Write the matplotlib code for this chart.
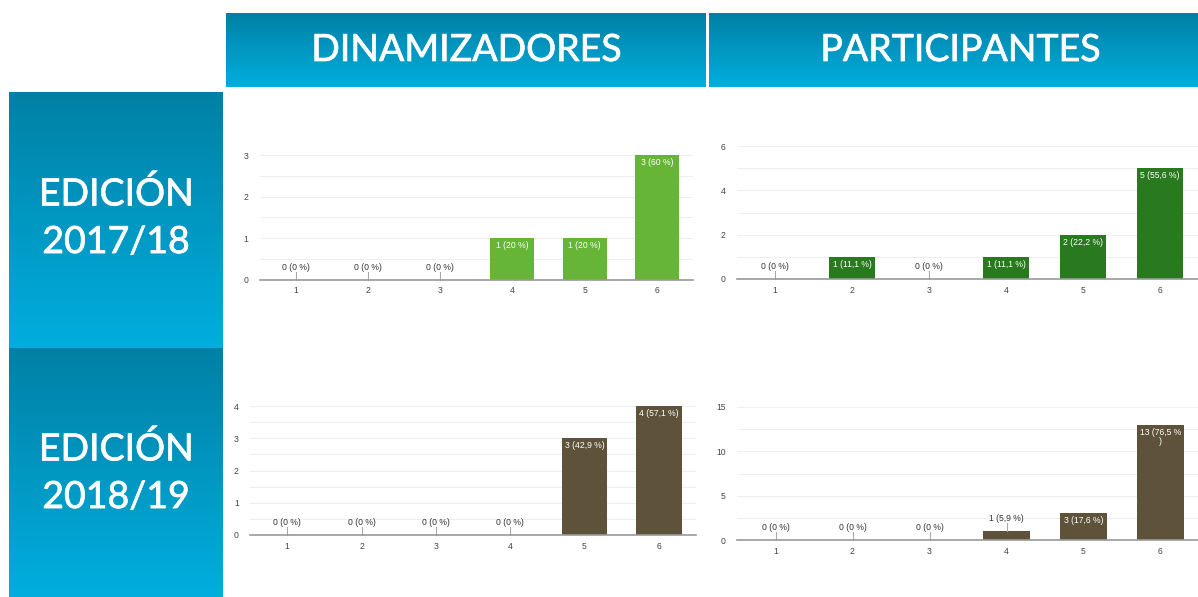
import numpy as np
import matplotlib
matplotlib.use("Agg")
import matplotlib.pyplot as plt
import matplotlib.patheffects as pe

plt.rcParams["font.family"] = ["Liberation Sans", "DejaVu Sans"]

# answers 1..6 for each group / edition
categories = [1, 2, 3, 4, 5, 6]
din_1718 = [0, 0, 0, 1, 1, 3]
par_1718 = [0, 1, 0, 1, 2, 5]
din_1819 = [0, 0, 0, 0, 3, 4]
par_1819 = [0, 0, 0, 1, 3, 13]

col_titles = ["DINAMIZADORES", "PARTICIPANTES"]
row_titles = ["EDICIÓN\n2017/18", "EDICIÓN\n2018/19"]

W, H = 1198, 597
fig = plt.figure(figsize=(W / 100, H / 100), dpi=100)

# background layer in pixel coordinates
bg = fig.add_axes([0, 0, 1, 1])
bg.axis("off")

grad = np.linspace(0, 1, 256).reshape(-1, 1)
top_c = np.array([0, 128, 165]) / 255
bot_c = np.array([0, 174, 222]) / 255
img = top_c + grad[..., None] * (bot_c - top_c)


def box(x0, x1, y0, y1):
    bg.imshow(img, extent=[x0, x1, y1, y0], aspect="auto", zorder=1)


box(226, 706, 13, 87)
box(709, 1198, 13, 87)
box(9, 223, 92, 348)
box(9, 223, 348, 597)
bg.set_xlim(0, W)
bg.set_ylim(H, 0)

# slight white stroke to get a medium weight look
title_kw = dict(color="white", family="Lato", ha="center", va="center", zorder=2,
                path_effects=[pe.withStroke(linewidth=0.5, foreground="white")])
bg.text(466, 50, col_titles[0], fontsize=27, **title_kw)
bg.text(960, 50, col_titles[1], fontsize=27, **title_kw)
bg.text(116, 218, row_titles[0], fontsize=27, linespacing=1.4, **title_kw)
bg.text(116, 473, row_titles[1], fontsize=27, linespacing=1.4, **title_kw)


def fmt_label(v, total):
    p = 100 * v / total
    s = f"{p:.1f}".replace(".", ",")
    if s.endswith(",0"):
        s = s[:-2]
    lab = f"{v} ({s} %)"
    if len(lab) > 10:
        lab = lab[:-1] + "\n)"
    return lab


def chart(px, values, color, ymax, step):
    # px = (left, right, top, bottom) in pixels
    l, r, t, b = px
    ax = fig.add_axes([l / W, 1 - b / H, (r - l) / W, (b - t) / H])
    ax.set_xlim(0.5, 6.5)
    ax.set_ylim(0, ymax)
    ax.bar(categories, values, width=0.61, color=color, zorder=3)
    ax.set_yticks(np.arange(0, ymax + 0.01, step))
    ax.set_yticks(np.arange(0, ymax + 0.01, step / 2), minor=True)
    ax.set_xticks(categories)
    ax.grid(axis="y", which="both", color="#efefef", lw=0.8, zorder=0)
    ax.tick_params(which="both", length=0, labelsize=6.2, labelcolor="#444444", pad=5)
    ax.tick_params(axis="y", pad=8)
    for s in ["top", "right", "left"]:
        ax.spines[s].set_visible(False)
    ax.spines["bottom"].set_color("#999999")
    ax.spines["bottom"].set_linewidth(1.2)
    ax.spines["bottom"].set_zorder(4)
    total = sum(values)
    pix_per_unit = (b - t) / ymax
    for x, v in zip(categories, values):
        lab = fmt_label(v, total)
        if v * pix_per_unit > 16:
            ax.annotate(lab, (x, v), xytext=(0, -3), textcoords="offset pixels",
                        ha="center", va="top", color="white", fontsize=6.2,
                        zorder=5, linespacing=1.0)
        else:
            ax.plot([x, x], [v, v + 8 / pix_per_unit], color="#aaaaaa",
                    lw=0.8, zorder=4, clip_on=False)
            ax.annotate(lab, (x, v), xytext=(0, 8), textcoords="offset pixels",
                        ha="center", va="bottom", color="#333333", fontsize=6.2,
                        zorder=5)
    return ax


chart((259.5, 693, 155, 279.5), din_1718, "#66b537", 3, 1)
chart((736.5, 1198.5, 146, 279), par_1718, "#29791e", 6, 2)
chart((250, 696, 406, 535), din_1819, "#5e533a", 4, 1)
chart((737, 1199, 407, 540), par_1819, "#5e533a", 15, 5)

fig.savefig("out.png", dpi=100)
